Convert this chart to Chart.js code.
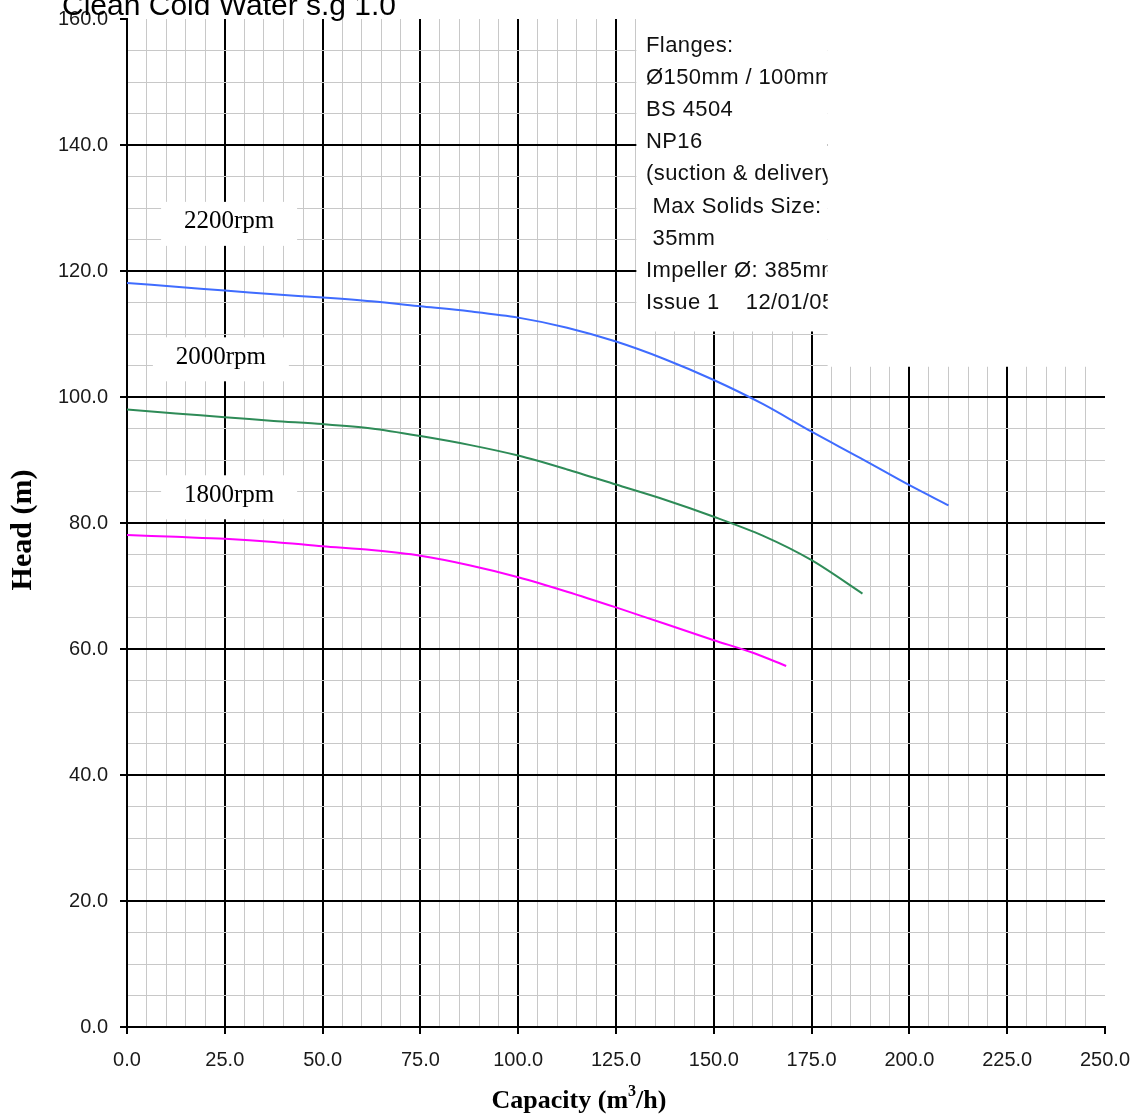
<!DOCTYPE html>
<html>
<head>
<meta charset="utf-8">
<title>Pump performance curve</title>
<script src="https://cdn.jsdelivr.net/npm/chart.js@4/dist/chart.umd.min.js"></script>
<style>
  html, body { margin: 0; padding: 0; background: #fff; }
  #wrap { width: 1134px; height: 1120px; position: relative; }
</style>
</head>
<body>
<div id="wrap"><canvas id="pump-chart"></canvas></div>
<script>
// curve values (capacity m3/h -> head m)
const capacity2200 = [0, 12.5, 25, 37.5, 50, 62.5, 75, 87.5, 100, 112.5, 125, 137.5, 150, 162.5, 175, 187.5, 200, 210];
const head2200     = [118.1, 117.5, 116.9, 116.3, 115.8, 115.2, 114.4, 113.6, 112.6, 111.0, 108.8, 106.0, 102.7, 98.9, 94.5, 90.3, 86.0, 82.8];

const capacity2000 = [0, 12.5, 25, 37.5, 50, 62.5, 75, 87.5, 100, 112.5, 125, 137.5, 150, 162.5, 175, 188];
const head2000     = [98.0, 97.4, 96.8, 96.2, 95.7, 95.0, 93.8, 92.4, 90.7, 88.5, 86.1, 83.7, 81.0, 78.0, 74.1, 68.8];

const capacity1800 = [0, 12.5, 25, 37.5, 50, 62.5, 75, 87.5, 100, 112.5, 125, 137.5, 150, 160, 168.5];
const head1800     = [78.1, 77.8, 77.5, 77.0, 76.3, 75.7, 74.8, 73.3, 71.4, 69.1, 66.6, 64.0, 61.4, 59.4, 57.3];

// labelled ticks
const xTicks = [0, 25, 50, 75, 100, 125, 150, 175, 200, 225, 250];
const yTicks = [0, 20, 40, 60, 80, 100, 120, 140, 160];

const titleText = 'Clean Cold Water s.g 1.0';
const speedNames = ['2200rpm', '2000rpm', '1800rpm'];
const noteLines = [
    'Flanges:',
    'Ø150mm / 100mm',
    'BS 4504',
    'NP16',
    '(suction & delivery)',
    ' Max Solids Size:',
    ' 35mm',
    'Impeller Ø: 385mm',
    'Issue 1    12/01/05'
];

// label placement (data units) for the rpm tags
const speedSpots = [
    { x: 26.1, y: 127.8 },
    { x: 24.0, y: 106.3 },
    { x: 26.1, y: 84.4 }
];

// white areas that hide the grid behind the note block (data units)
const coverBoxes = [
    { from: 130.2, to: 179.1, down: 110.4 },
    { from: 179.1, to: null, down: 104.8 }
];

function toPoints(xs, ys) {
    return xs.map((v, i) => ({ x: v, y: ys[i] }));
}

const overlayPlugin = {
    id: 'overlay',
    beforeDatasetsDraw(chart) {
        const ctx = chart.ctx;
        const x = chart.scales.x, y = chart.scales.y;
        ctx.save();
        ctx.fillStyle = '#ffffff';
        coverBoxes.forEach(b => {
            const left = x.getPixelForValue(b.from);
            const right = b.to === null ? chart.width : x.getPixelForValue(b.to);
            ctx.fillRect(left, 0, right - left, y.getPixelForValue(b.down));
        });

        // rpm tags with white backing
        ctx.font = '25px "Liberation Serif"';
        ctx.textAlign = 'center';
        ctx.textBaseline = 'middle';
        speedNames.forEach((name, i) => {
            const cx = x.getPixelForValue(speedSpots[i].x);
            const cy = y.getPixelForValue(speedSpots[i].y);
            ctx.fillStyle = '#ffffff';
            ctx.fillRect(cx - 68, cy - 20, 136, 44);
            ctx.fillStyle = '#000000';
            ctx.fillText(name, cx, cy);
        });
        ctx.restore();
    },
    afterDraw(chart) {
        const ctx = chart.ctx;
        const x = chart.scales.x;
        ctx.save();

        // title, cut off at the top like the original
        ctx.fillStyle = '#000000';
        ctx.font = '30px "Liberation Sans"';
        ctx.textAlign = 'left';
        ctx.textBaseline = 'alphabetic';
        ctx.fillText(titleText, 62, 15);

        // note block, clipped at its right edge
        ctx.save();
        const clipLeft = x.getPixelForValue(coverBoxes[0].from);
        const clipRight = x.getPixelForValue(coverBoxes[0].to);
        ctx.beginPath();
        ctx.rect(clipLeft, 0, clipRight - clipLeft, 340);
        ctx.clip();
        ctx.font = '22px "Liberation Sans"';
        ctx.letterSpacing = '0.4px';
        ctx.fillStyle = '#111111';
        ctx.textBaseline = 'middle';
        noteLines.forEach((line, i) => {
            ctx.fillText(line, 646, 46 + i * 32.1);
        });
        ctx.restore();

        // x axis title with superscript
        ctx.font = 'bold 26px "Liberation Serif"';
        ctx.textBaseline = 'alphabetic';
        const partA = 'Capacity (m', partB = '3', partC = '/h)';
        const wA = ctx.measureText(partA).width;
        const wC = ctx.measureText(partC).width;
        ctx.font = 'bold 16px "Liberation Serif"';
        const wB = ctx.measureText(partB).width;
        const left = 579 - (wA + wB + wC) / 2;
        ctx.font = 'bold 26px "Liberation Serif"';
        ctx.fillText(partA, left, 1108);
        ctx.font = 'bold 16px "Liberation Serif"';
        ctx.fillText(partB, left + wA, 1096);
        ctx.font = 'bold 26px "Liberation Serif"';
        ctx.fillText(partC, left + wA + wB, 1108);

        // y axis title
        ctx.translate(23, 530);
        ctx.rotate(-Math.PI / 2);
        ctx.font = 'bold 30px "Liberation Serif"';
        ctx.textAlign = 'center';
        ctx.textBaseline = 'middle';
        ctx.fillText('Head (m)', 0, 0);
        ctx.restore();
    }
};

Chart.defaults.font.family = '"Liberation Sans", Arial, sans-serif';

const ctx = document.getElementById('pump-chart').getContext('2d');

new Chart(ctx, {
    type: 'line',
    data: {
        datasets: [
            { label: '2200rpm', data: toPoints(capacity2200, head2200), borderColor: '#3f6cff' },
            { label: '2000rpm', data: toPoints(capacity2000, head2000), borderColor: '#2e8b57' },
            { label: '1800rpm', data: toPoints(capacity1800, head1800), borderColor: '#ff00ff' }
        ]
    },
    options: {
        responsive: true,
        maintainAspectRatio: false,
        animation: false,
        elements: {
            line: { borderWidth: 2, tension: 0.3, fill: false },
            point: { radius: 0 }
        },
        layout: { padding: { top: 19, right: 29, left: 0, bottom: 0 } },
        plugins: {
            legend: { display: false },
            tooltip: { enabled: false }
        },
        scales: {
            x: {
                type: 'linear',
                min: 0,
                max: 250,
                // fixed axis band, no extra room for edge labels
                afterFit: s => {
                    s.height = 93;
                    s.paddingLeft = 0;
                    s.paddingRight = 0;
                },
                ticks: {
                    stepSize: 5,
                    autoSkip: false,
                    maxRotation: 0,
                    padding: 14,
                    color: '#1a1a1a',
                    font: { size: 20 },
                    callback: v => xTicks.includes(v) ? v.toFixed(1) : ''
                },
                grid: {
                    color: c => c.tick.value === 250 ? 'rgba(0,0,0,0)' : (c.tick.value % 25 === 0 ? '#000' : '#c8c8c8'),
                    lineWidth: c => c.tick.value % 25 === 0 ? 2 : 1,
                    tickColor: c => c.tick.value % 25 === 0 ? '#000' : 'rgba(0,0,0,0)',
                    tickLength: 7
                },
                border: { color: '#000', width: 2 }
            },
            y: {
                type: 'linear',
                min: 0,
                max: 160,
                afterFit: s => {
                    s.width = 127;
                    s.paddingTop = 0;
                    s.paddingBottom = 0;
                },
                ticks: {
                    stepSize: 5,
                    autoSkip: false,
                    padding: 12,
                    color: '#1a1a1a',
                    font: { size: 20 },
                    callback: v => yTicks.includes(v) ? v.toFixed(1) : ''
                },
                grid: {
                    color: c => c.tick.value === 160 ? 'rgba(0,0,0,0)' : (c.tick.value % 20 === 0 ? '#000' : '#c8c8c8'),
                    lineWidth: c => c.tick.value % 20 === 0 ? 2 : 1,
                    tickColor: c => c.tick.value % 20 === 0 ? '#000' : 'rgba(0,0,0,0)',
                    tickLength: 7
                },
                border: { color: '#000', width: 2 }
            }
        }
    },
    plugins: [overlayPlugin]
});
</script>
</body>
</html>
